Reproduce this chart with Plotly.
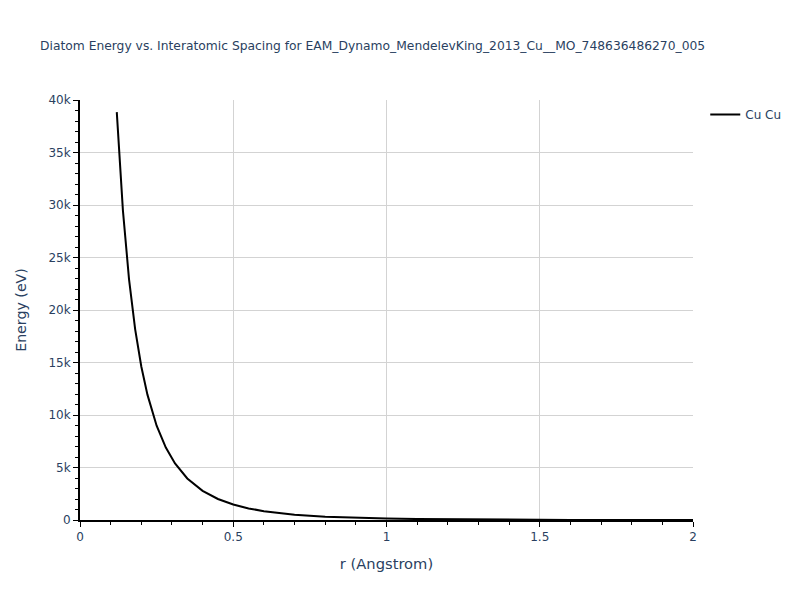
import plotly.graph_objects as go

r_values = [0.12, 0.14, 0.16, 0.18, 0.20, 0.22, 0.25, 0.28, 0.31, 0.35, 0.40, 0.45,
            0.50, 0.55, 0.60, 0.70, 0.80, 0.90, 1.00, 1.10, 1.20, 1.30, 1.40, 1.50,
            1.60, 1.70, 1.80, 1.90, 2.00]
energy_values = [38850, 29490, 22920, 18160, 14620, 11940, 8980, 6900, 5390, 3960, 2780, 2000,
                 1474, 1105, 842, 507, 317, 204, 135, 92, 62, 41, 26, 16,
                 9, 5, 2, 0, -1]
series_name = "Cu Cu"
title_text = "Diatom Energy vs. Interatomic Spacing for EAM_Dynamo_MendelevKing_2013_Cu__MO_748636486270_005"

font_family = "Verdana, DejaVu Sans, sans-serif"

fig = go.Figure()
fig.add_trace(go.Scatter(x=r_values, y=energy_values, mode="lines", name=series_name,
                         line=dict(color="black", width=2)))

fig.update_layout(
    width=800, height=600,
    template="plotly_white",
    font=dict(family=font_family, color="#2a3f5f"),
    title=dict(text=title_text, x=0.05, xanchor="left", font=dict(size=12.3, family=font_family)),
    margin=dict(l=80, r=107, t=100, b=80),
    showlegend=True,
    legend=dict(x=1.02, y=1, font=dict(size=12)),
    plot_bgcolor="white",
)
fig.update_xaxes(
    title=dict(text="r (Angstrom)", font=dict(size=14.7)),
    range=[0, 2], dtick=0.5,
    showline=True, linecolor="black", linewidth=2,
    ticks="outside", ticklen=5, tickcolor="black",
    minor=dict(dtick=0.1, ticks="outside", ticklen=3, tickcolor="black", showgrid=False),
    showgrid=True, gridcolor="#d3d3d3", zeroline=False,
    tickfont=dict(size=12),
)
fig.update_yaxes(
    title=dict(text="Energy (eV)", font=dict(size=14.2), standoff=18),
    range=[0, 40000], dtick=5000,
    showline=True, linecolor="black", linewidth=2,
    ticks="outside", ticklen=5, tickcolor="black",
    minor=dict(dtick=1000, ticks="outside", ticklen=3, tickcolor="black", showgrid=False),
    showgrid=True, gridcolor="#d3d3d3", zeroline=False,
    tickfont=dict(size=12),
)

fig.write_html("out.html", config={"displayModeBar": False},
               post_script="document.body.style.margin='0px';")
